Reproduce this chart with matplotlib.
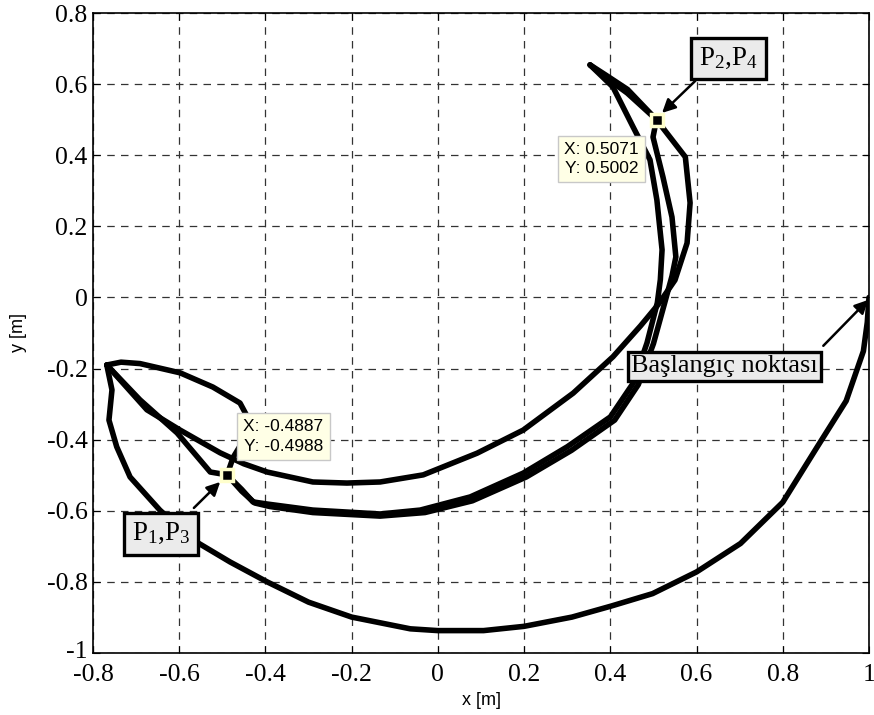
import matplotlib
matplotlib.use('Agg')
import matplotlib.pyplot as plt
from matplotlib.transforms import ScaledTranslation

# fonts: Times-like for ticks and boxes, Arial-like for axis labels / datatips
plt.rcParams['font.family'] = ['Liberation Serif', 'DejaVu Serif']
plt.rcParams['axes.unicode_minus'] = False
plt.rcParams['mathtext.fontset'] = 'custom'
plt.rcParams['mathtext.rm'] = 'Liberation Serif'
plt.rcParams['mathtext.it'] = 'Liberation Serif:italic'

# --- trajectory pieces (x [m], y [m]) ---
# start point -> big lower arc -> left cusp
arc_x = [1.0, 0.996, 0.987, 0.947, 0.877, 0.80, 0.702, 0.60, 0.498, 0.402, 0.311,
         0.20, 0.106, 0.0, -0.064, -0.20, -0.30, -0.396, -0.482, -0.568, -0.645,
         -0.714, -0.745, -0.763, -0.756, -0.768]
arc_y = [0.0, -0.07, -0.151, -0.291, -0.426, -0.576, -0.692, -0.772, -0.833, -0.868,
         -0.899, -0.925, -0.937, -0.937, -0.932, -0.899, -0.857, -0.800, -0.744,
         -0.682, -0.598, -0.505, -0.420, -0.345, -0.260, -0.190]

# left cusp -> small loop -> P1
loop_x = [-0.768, -0.735, -0.691, -0.598, -0.522, -0.459, -0.44, -0.45, -0.475, -0.489]
loop_y = [-0.190, -0.182, -0.186, -0.212, -0.252, -0.297, -0.34, -0.40, -0.45, -0.499]

# P1 -> lower path -> left branch up to top cusp
low1_x = [-0.489, -0.455, -0.429, -0.396, -0.29, -0.134, -0.041, 0.075, 0.198, 0.30,
          0.40, 0.453, 0.485, 0.509, 0.516, 0.520, 0.508, 0.492, 0.453, 0.406, 0.353]
low1_y = [-0.499, -0.54, -0.575, -0.581, -0.598, -0.609, -0.598, -0.561, -0.494, -0.42,
          -0.336, -0.241, -0.128, -0.015, 0.05, 0.134, 0.274, 0.387, 0.479, 0.592, 0.654]

# top cusp -> P2
top1_x = [0.353, 0.397, 0.439, 0.507]
top1_y = [0.654, 0.612, 0.575, 0.500]

# left cusp -> upper path -> right branch -> P2
up_x = [-0.768, -0.675, -0.598, -0.505, -0.45, -0.396, -0.29, -0.211, -0.134, -0.034,
        0.091, 0.198, 0.314, 0.406, 0.47, 0.511, 0.55, 0.578, 0.585, 0.574, 0.507]
up_y = [-0.190, -0.316, -0.373, -0.437, -0.468, -0.491, -0.519, -0.522, -0.519, -0.499,
        -0.438, -0.373, -0.269, -0.167, -0.08, -0.02, 0.049, 0.153, 0.266, 0.395, 0.500]

# left cusp -> P1 -> second lower path -> middle branch -> P2 -> top cusp
low2_x = [-0.768, -0.691, -0.605, -0.528, -0.489, -0.455, -0.425, -0.39, -0.29, -0.134,
          -0.03, 0.08, 0.205, 0.31, 0.41, 0.465, 0.50, 0.525, 0.543, 0.552, 0.543,
          0.522, 0.499, 0.507, 0.44, 0.39, 0.353]
low2_y = [-0.190, -0.288, -0.381, -0.491, -0.499, -0.545, -0.578, -0.588, -0.605, -0.615,
          -0.605, -0.572, -0.505, -0.43, -0.345, -0.245, -0.13, -0.02, 0.06, 0.114, 0.226,
          0.339, 0.451, 0.500, 0.585, 0.625, 0.654]

segments = [(arc_x, arc_y), (loop_x, loop_y), (low1_x, low1_y),
            (top1_x, top1_y), (up_x, up_y), (low2_x, low2_y)]

# data tips and labels
p13 = (-0.4887, -0.4988)
p24 = (0.5071, 0.5002)
start_pt = (1.0, 0.0)
label_p13 = 'P$_1$,P$_3$'
label_p24 = 'P$_2$,P$_4$'
label_start = 'Başlangıç noktası'

x_ticks = [-0.8, -0.6, -0.4, -0.2, 0.0, 0.2, 0.4, 0.6, 0.8, 1.0]
x_tick_labels = ['-0.8', '-0.6', '-0.4', '-0.2', '0', '0.2', '0.4', '0.6', '0.8', '1']
y_ticks = [-1.0, -0.8, -0.6, -0.4, -0.2, 0.0, 0.2, 0.4, 0.6, 0.8]
y_tick_labels = ['-1', '-0.8', '-0.6', '-0.4', '-0.2', '0', '0.2', '0.4', '0.6', '0.8']

fig = plt.figure(figsize=(8.74, 7.15), dpi=100)
ax = fig.add_axes([93 / 874, 62 / 715, 776 / 874, 640 / 715])

for sx, sy in segments:
    ax.plot(sx, sy, color='k', lw=4.0, solid_joinstyle='round', solid_capstyle='round')

ax.set_xlim(-0.8, 1.0)
ax.set_ylim(-1.0, 0.8)
ax.set_xticks(x_ticks)
ax.set_xticklabels(x_tick_labels)
ax.set_yticks(y_ticks)
ax.set_yticklabels(y_tick_labels)
ax.grid(True, linestyle=(0, (6, 5)), color='#333333', lw=0.9)
ax.tick_params(direction='in', length=5, top=True, right=True, labelsize=18.5)
ax.tick_params(axis='x', pad=8)
ax.tick_params(axis='y', pad=4)
for sp in ax.spines.values():
    sp.set_linewidth(1.2)

# lift the bottom y label a little, like the reference
lbl = ax.get_yticklabels()[0]
lbl.set_transform(lbl.get_transform() + ScaledTranslation(0, 3 / 100, fig.dpi_scale_trans))

ax.set_xlabel('x [m]', family=['Liberation Sans'], fontsize=13, labelpad=4)
ax.set_ylabel('y [m]', family=['Liberation Sans'], fontsize=13, labelpad=14)

# data tip markers
for pt in (p13, p24):
    ax.plot(pt[0], pt[1], 's', ms=9, mfc='k', mec='#ffffcc', mew=2.5, zorder=5)

tip_box = dict(boxstyle='square,pad=0.35', fc='#ffffe6', ec='#c8c8c8', lw=1)
ax.text(-0.358, -0.391, f'X: {p13[0]:.4f}\nY: {p13[1]:.4f}', family=['Liberation Sans'],
        fontsize=12.5, ha='center', va='center', linespacing=1.35, bbox=tip_box, zorder=6)
ax.text(0.380, 0.389, f'X: {p24[0]:.4f}\nY: {p24[1]:.4f}', family=['Liberation Sans'],
        fontsize=12.5, ha='center', va='center', linespacing=1.35, bbox=tip_box, zorder=6)

# text boxes with arrows
note_box = dict(boxstyle='square,pad=0.3', fc='#ebebeb', ec='k', lw=2.4)
arrow = dict(arrowstyle='-|>', color='k', lw=1.8, mutation_scale=20, shrinkA=0, shrinkB=0)

ax.text(-0.642, -0.665, label_p13, fontsize=19.5, ha='center', va='center', bbox=note_box, zorder=7)
ax.annotate('', xy=(-0.505, -0.519), xytext=(-0.566, -0.592), arrowprops=arrow, zorder=7)

ax.text(0.673, 0.672, label_p24, fontsize=19.5, ha='center', va='center', bbox=note_box, zorder=7)
ax.annotate('', xy=(0.520, 0.519), xytext=(0.597, 0.609), arrowprops=arrow, zorder=7)

ax.text(0.665, -0.194, label_start, fontsize=19, ha='center', va='center',
        bbox=dict(boxstyle='square,pad=0.12', fc='#ebebeb', ec='k', lw=2.4), zorder=7)
ax.annotate('', xy=(start_pt[0] - 0.002, start_pt[1] - 0.007), xytext=(0.894, -0.136),
            arrowprops=arrow, zorder=7)

fig.savefig('out.png', dpi=100)
